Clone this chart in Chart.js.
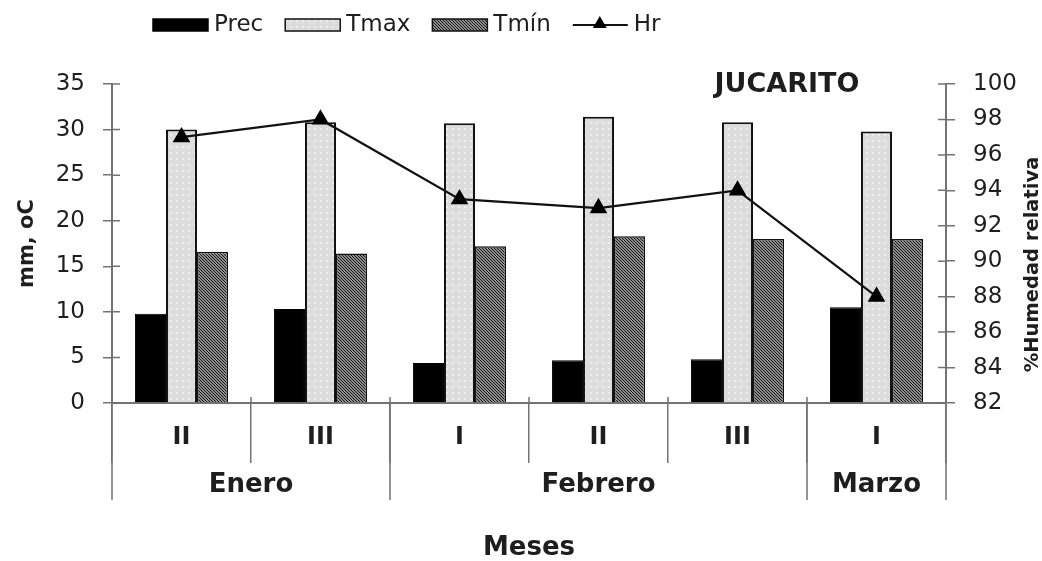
<!DOCTYPE html>
<html>
<head>
<meta charset="utf-8">
<title>Jucarito</title>
<script src="https://cdn.jsdelivr.net/npm/chart.js@4.4.1/dist/chart.umd.min.js"></script>
<style>
    html, body { margin: 0; padding: 0; background: #fff; }
    #wrap { width: 1042px; height: 561px; }
</style>
</head>
<body>
<div id="wrap"><canvas id="climaChart" width="1042" height="561"></canvas></div>
<script>
// decenas y meses del eje X
const decades = ["II", "III", "I", "II", "III", "I"];
const months = ["Enero", "Febrero", "Marzo"];
const monthSpans = [2, 3, 1];

// valores
const precValues = [9.8, 10.3, 4.4, 4.7, 4.8, 10.5];
const tmaxValues = [30.0, 30.8, 30.7, 31.4, 30.8, 29.8];
const tminValues = [16.6, 16.4, 17.2, 18.3, 18.0, 18.0];
const hrValues = [97.0, 98.0, 93.5, 93.0, 94.0, 88.0];

// marcas de los ejes
const mmTicks = [0, 5, 10, 15, 20, 25, 30, 35];
const hrTicks = [82, 84, 86, 88, 90, 92, 94, 96, 98, 100];

const FONT = "'DejaVu Sans', sans-serif";
const TEXT = "#1e1e1e";
const AXIS = "#737373";

function makePattern(size, draw) {
    const tile = document.createElement("canvas");
    tile.width = size;
    tile.height = size;
    const c = tile.getContext("2d");
    draw(c, size);
    return c.createPattern(tile, "repeat");
}

const tmaxFill = makePattern(6, (c, s) => {
    c.fillStyle = "#dcdcdc";
    c.fillRect(0, 0, s, s);
    c.fillStyle = "#eeeeee";
    c.fillRect(2, 2, 2, 2);
});

const tminFill = makePattern(3, (c, s) => {
    c.fillStyle = "#8c8c8c";
    c.fillRect(0, 0, s, s);
    c.fillStyle = "#1a1a1a";
    for (let i = 0; i < s; i++) c.fillRect(i, i, 1, 1);
});

function drawTriangle(ctx, cx, cy, r) {
    ctx.beginPath();
    ctx.moveTo(cx, cy - r);
    ctx.lineTo(cx + r * 0.87, cy + r * 0.5);
    ctx.lineTo(cx - r * 0.87, cy + r * 0.5);
    ctx.closePath();
    ctx.fill();
}

const extrasPlugin = {
    id: "extras",
    afterDraw(chart) {
        const { ctx, chartArea: area, scales } = chart;
        const x = scales.x;
        const step = x.getPixelForValue(1) - x.getPixelForValue(0);

        ctx.save();

        // marcas interiores de los ejes
        ctx.strokeStyle = AXIS;
        ctx.lineWidth = 1.5;
        ctx.beginPath();
        mmTicks.forEach(v => {
            const py = scales.y.getPixelForValue(v);
            ctx.moveTo(area.left, py);
            ctx.lineTo(area.left + 8, py);
        });
        hrTicks.forEach(v => {
            const py = scales.y1.getPixelForValue(v);
            ctx.moveTo(area.right - 8, py);
            ctx.lineTo(area.right, py);
        });
        for (let i = 0; i <= decades.length; i++) {
            const px = x.getPixelForValue(i) - step / 2;
            ctx.moveTo(px, area.bottom);
            ctx.lineTo(px, area.bottom - 6);
        }
        ctx.stroke();

        // meses
        ctx.fillStyle = TEXT;
        ctx.font = `bold 26px ${FONT}`;
        ctx.textAlign = "center";
        ctx.textBaseline = "middle";
        let start = 0;
        ctx.beginPath();
        months.forEach((name, k) => {
            const x0 = x.getPixelForValue(start) - step / 2;
            const x1 = x.getPixelForValue(start + monthSpans[k] - 1) + step / 2;
            ctx.moveTo(x0, area.bottom);
            ctx.lineTo(x0, area.bottom + 97);
            ctx.moveTo(x1, area.bottom);
            ctx.lineTo(x1, area.bottom + 97);
            ctx.fillText(name, (x0 + x1) / 2, area.bottom + 82);
            start += monthSpans[k];
        });
        ctx.stroke();

        // titulo del eje derecho
        ctx.save();
        ctx.translate(area.right + 87, (area.top + area.bottom) / 2 + 21);
        ctx.rotate(-Math.PI / 2);
        ctx.font = `bold 19.5px ${FONT}`;
        ctx.fillText("%Humedad relativa", 0, 0);
        ctx.restore();

        // estacion
        ctx.font = `bold 27px ${FONT}`;
        ctx.fillText("JUCARITO", area.right - 159, area.top + 1);

        // leyenda
        ctx.font = `23px ${FONT}`;
        ctx.textAlign = "left";
        const ly = 25;
        let lx = 153;
        chart.data.datasets.forEach(ds => {
            if (ds.type === "line") {
                ctx.strokeStyle = ds.borderColor;
                ctx.lineWidth = 2;
                ctx.beginPath();
                ctx.moveTo(lx, ly);
                ctx.lineTo(lx + 55, ly);
                ctx.stroke();
                ctx.fillStyle = ds.pointBackgroundColor;
                drawTriangle(ctx, lx + 27, ly - 1, 8);
            } else {
                ctx.fillStyle = ds.backgroundColor;
                ctx.fillRect(lx, ly - 6, 55, 12);
                ctx.strokeStyle = ds.borderColor;
                ctx.lineWidth = 1.5;
                ctx.strokeRect(lx, ly - 6, 55, 12);
            }
            ctx.fillStyle = TEXT;
            ctx.fillText(ds.label, lx + 61, ly);
            lx += 61 + ctx.measureText(ds.label).width + 22;
        });

        ctx.restore();
    }
};

new Chart(document.getElementById("climaChart"), {
    type: "bar",
    data: {
        labels: decades,
        datasets: [
            {
                type: "bar",
                label: "Prec",
                data: precValues,
                backgroundColor: "#000000",
                borderColor: "#000000",
                borderWidth: 1,
                yAxisID: "y",
                order: 1,
                categoryPercentage: 0.67,
                barPercentage: 1
            },
            {
                type: "bar",
                label: "Tmax",
                data: tmaxValues,
                backgroundColor: tmaxFill,
                borderColor: "#111111",
                borderWidth: 2,
                yAxisID: "y",
                order: 1,
                categoryPercentage: 0.67,
                barPercentage: 1
            },
            {
                type: "bar",
                label: "Tmín",
                data: tminValues,
                backgroundColor: tminFill,
                borderColor: "#111111",
                borderWidth: 1.5,
                yAxisID: "y",
                order: 1,
                categoryPercentage: 0.67,
                barPercentage: 1
            },
            {
                type: "line",
                label: "Hr",
                data: hrValues,
                yAxisID: "y1",
                borderColor: "#111111",
                borderWidth: 2.2,
                tension: 0,
                pointStyle: "triangle",
                pointRadius: 8,
                pointBackgroundColor: "#000000",
                pointBorderColor: "#000000",
                order: 0
            }
        ]
    },
    options: {
        responsive: false,
        animation: false,
        layout: { padding: { top: 84, left: 0, right: 0, bottom: 0 } },
        plugins: {
            legend: { display: false },
            tooltip: { enabled: false }
        },
        scales: {
            x: {
                offset: true,
                grid: {
                    offset: true,
                    drawOnChartArea: false,
                    tickLength: 60,
                    color: AXIS,
                    lineWidth: 1.5
                },
                border: { color: AXIS, width: 2 },
                ticks: {
                    autoSkip: false,
                    maxRotation: 0,
                    padding: -40,
                    color: TEXT,
                    font: { family: FONT, size: 24, weight: "bold" }
                },
                title: {
                    display: true,
                    text: "Meses",
                    color: TEXT,
                    font: { family: FONT, size: 26, weight: "bold", lineHeight: 1 },
                    padding: { top: 0, bottom: 0 }
                },
                afterFit: s => { s.height = 158; }
            },
            y: {
                position: "left",
                min: mmTicks[0],
                max: mmTicks[mmTicks.length - 1],
                afterBuildTicks: s => { s.ticks = mmTicks.map(v => ({ value: v })); },
                grid: { drawOnChartArea: false, tickLength: 9, color: AXIS, lineWidth: 1.5 },
                border: { color: AXIS, width: 2 },
                ticks: { padding: 18, color: TEXT, font: { family: FONT, size: 23 } },
                title: {
                    display: true,
                    text: "mm, oC",
                    color: TEXT,
                    font: { family: FONT, size: 21, weight: "bold" },
                    padding: { top: 15, bottom: 0 }
                },
                afterFit: s => { s.width = 112; }
            },
            y1: {
                position: "right",
                min: hrTicks[0],
                max: hrTicks[hrTicks.length - 1],
                afterBuildTicks: s => { s.ticks = hrTicks.map(v => ({ value: v })); },
                grid: { drawOnChartArea: false, tickLength: 9, color: AXIS, lineWidth: 1.5 },
                border: { color: AXIS, width: 2 },
                ticks: { padding: 18, color: TEXT, font: { family: FONT, size: 23 } },
                afterFit: s => { s.width = 96; }
            }
        }
    },
    plugins: [extrasPlugin]
});
</script>
</body>
</html>
